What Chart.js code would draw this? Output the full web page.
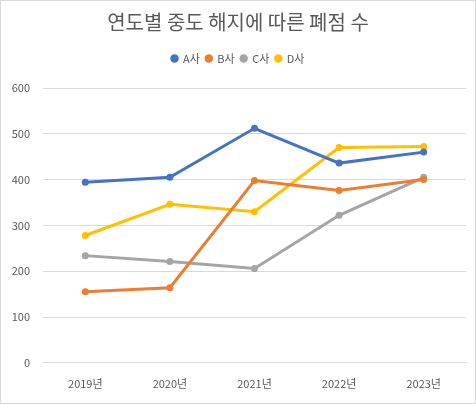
<!DOCTYPE html>
<html>
<head>
<meta charset="utf-8">
<script src="https://cdn.jsdelivr.net/npm/chart.js@4"></script>
<style>
  html, body { margin: 0; padding: 0; background: #fff; }
  #wrap { width: 476px; height: 404px; box-sizing: border-box; border: 1px solid #d9d9d9; position: relative; }
</style>
</head>
<body>
<div id="wrap"><canvas id="myChart"></canvas></div>
<script>
var years = ['2019년', '2020년', '2021년', '2022년', '2023년'];
var seriesA = [394, 405, 512, 436, 460];
var seriesB = [155, 164, 398, 376, 400];
var seriesC = [234, 221, 206, 322, 405];
var seriesD = [278, 346, 330, 470, 472];
var yTicks = [0, 100, 200, 300, 400, 500, 600];

var font = '"Noto Sans CJK KR", "Noto Sans", sans-serif';
Chart.defaults.font.family = font;
Chart.defaults.color = '#595959';

function ds(label, data, color) {
	return {
		label: label,
		data: data,
		borderColor: color,
		backgroundColor: color,
		borderWidth: 3,
		pointRadius: 3.5,
		pointBorderWidth: 0,
		pointBackgroundColor: color,
		tension: 0
	};
}

var chartdata = {
	labels: years,
	datasets: [
		ds('A사', seriesA, '#4472C4'),
		ds('B사', seriesB, '#ED7D31'),
		ds('C사', seriesC, '#A5A5A5'),
		ds('D사', seriesD, '#FFC000')
	]
};

// extra room under the legend
var legendGap = {
	id: 'legendGap',
	beforeInit: function(chart) {
		var fit = chart.legend.fit;
		chart.legend.fit = function() {
			fit.bind(chart.legend)();
			this.height += 14;
		};
	}
};

var ctx = document.getElementById('myChart');
var lineGraph = new Chart(ctx, {
	type: 'line',
	data: chartdata,
	plugins: [legendGap],
	options: {
		responsive: true,
		maintainAspectRatio: false,
		animation: false,
		layout: { padding: { left: 9, right: 9, top: 4, bottom: 7 } },
		plugins: {
			title: {
				display: true,
				text: '연도별 중도 해지에 따른 폐점 수',
				font: { size: 20, weight: 'normal' },
				color: '#595959',
				padding: { top: 5, bottom: 13 }
			},
			legend: {
				position: 'top',
				labels: {
					usePointStyle: true,
					pointStyle: 'circle',
					boxWidth: 6,
					boxHeight: 6,
					padding: 6,
					font: { size: 11 },
					color: '#595959'
				}
			},
			tooltip: { enabled: false }
		},
		scales: {
			x: {
				offset: true,
				grid: { display: false },
				border: { color: '#d9d9d9' },
				ticks: { font: { size: 11 }, color: '#595959', padding: 6 }
			},
			y: {
				min: 0,
				max: 600,
				afterBuildTicks: function(axis) {
					axis.ticks = yTicks.map(function(v) { return { value: v }; });
				},
				afterFit: function(axis) { axis.width = 33; },
				grid: { color: '#d9d9d9', drawTicks: false },
				border: { display: false },
				ticks: { font: { size: 11 }, color: '#595959', padding: 13 }
			}
		}
	}
});
</script>
</body>
</html>
